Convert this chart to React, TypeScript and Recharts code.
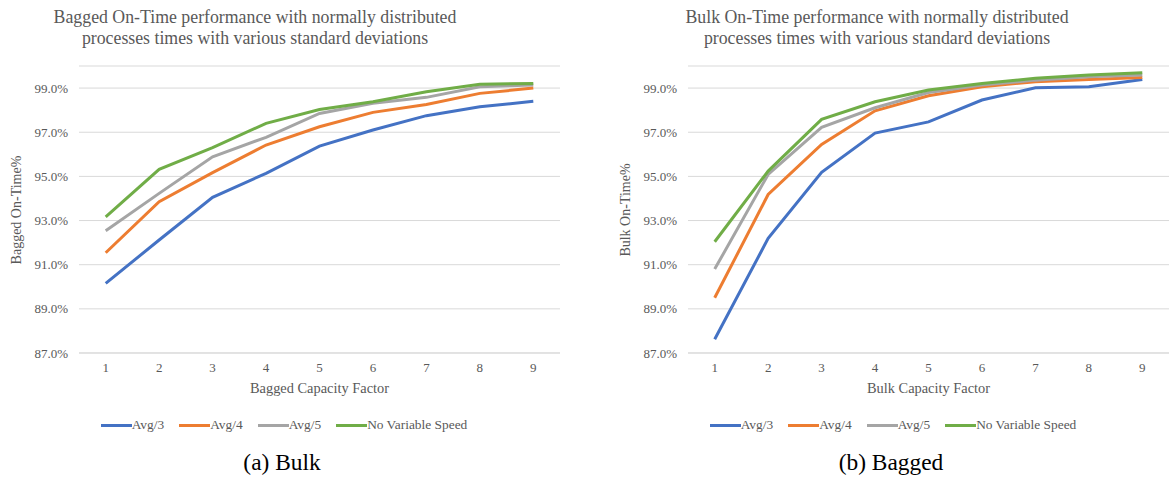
import React from "react";
import { LineChart, Line, XAxis, YAxis, CartesianGrid } from "recharts";

const categories = ["1", "2", "3", "4", "5", "6", "7", "8", "9"];
const seriesNames = ["Avg/3", "Avg/4", "Avg/5", "No Variable Speed"];
const COLORS = ["#4472C4", "#ED7D31", "#A5A5A5", "#70AD47"];
const yTicks = [87, 89, 91, 93, 95, 97, 99];

// left panel: bagged
const baggedAvg3 = [90.15, 92.12, 94.05, 95.14, 96.37, 97.1, 97.75, 98.15, 98.4];
const baggedAvg4 = [91.54, 93.85, 95.17, 96.42, 97.25, 97.9, 98.26, 98.76, 99.0];
const baggedAvg5 = [92.54, 94.23, 95.89, 96.77, 97.85, 98.31, 98.58, 99.06, 99.14];
const baggedNoVar = [93.17, 95.32, 96.3, 97.4, 98.03, 98.38, 98.83, 99.17, 99.21];

// right panel: bulk
const bulkAvg3 = [87.62, 92.19, 95.18, 96.96, 97.47, 98.46, 99.01, 99.06, 99.39];
const bulkAvg4 = [89.5, 94.18, 96.45, 97.97, 98.65, 99.06, 99.29, 99.39, 99.48];
const bulkAvg5 = [90.8, 95.09, 97.22, 98.11, 98.8, 99.14, 99.36, 99.51, 99.59];
const bulkNoVar = [92.04, 95.24, 97.58, 98.38, 98.91, 99.21, 99.44, 99.59, 99.69];

const buildRows = (series: number[][]) =>
  categories.map((c, i) => {
    const row: any = { x: c };
    seriesNames.forEach((n, j) => (row[n] = series[j][i]));
    return row;
  });

const baggedData = buildRows([baggedAvg3, baggedAvg4, baggedAvg5, baggedNoVar]);
const bulkData = buildRows([bulkAvg3, bulkAvg4, bulkAvg5, bulkNoVar]);

const FONT = "Liberation Serif, Times New Roman, serif";
const GRAY = "#595959";

interface PanelProps {
  left: number;
  data: any[];
  title: string[];
  titleX: number;
  yLabel: string;
  xLabel: string;
  caption: string;
}

const Panel: React.FC<PanelProps> = ({ left, data, title, titleX, yLabel, xLabel, caption }) => {
  return (
    <div style={{ position: "absolute", left, top: 0, width: 580, height: 488 }}>
      <div
        style={{
          position: "absolute",
          left: titleX - 250,
          width: 500,
          top: 7,
          textAlign: "center",
          fontFamily: FONT,
          fontSize: 17.8,
          lineHeight: "21px",
          color: GRAY,
        }}
      >
        {title.map((t, i) => (
          <div key={i}>{t}</div>
        ))}
      </div>
      <LineChart
        width={580}
        height={488}
        data={data}
        style={{ fontFamily: FONT }}
        margin={{ top: 66, right: 20, bottom: 93, left: 0 }}
      >
        <CartesianGrid vertical={false} stroke="#D9D9D9" />
        <XAxis
          dataKey="x"
          tickLine={false}
          axisLine={{ stroke: "#D9D9D9" }}
          tickSize={0}
          tickMargin={10}
          height={42}
          padding={{ left: 26.7, right: 26.7 }}
          tick={{ fill: GRAY, fontSize: 13, fontFamily: FONT }}
          label={(p: any) => {
            const vb = p.viewBox;
            return (
              <text
                x={vb.x + vb.width / 2}
                y={393}
                textAnchor="middle"
                fill={GRAY}
                fontSize={14.4}
                fontFamily={FONT}
              >
                {xLabel}
              </text>
            );
          }}
        />
        <YAxis
          type="number"
          domain={[87, 100]}
          ticks={yTicks}
          interval={0}
          width={79}
          tickLine={false}
          axisLine={false}
          tickSize={0}
          tickMargin={11}
          tickFormatter={(v: number) => v.toFixed(1) + "%"}
          tick={{ fill: GRAY, fontSize: 13, fontFamily: FONT }}
        />
        {seriesNames.map((n, i) => (
          <Line
            key={n}
            type="linear"
            dataKey={n}
            stroke={COLORS[i]}
            strokeWidth={3}
            dot={false}
            isAnimationActive={false}
          />
        ))}
      </LineChart>
      <div
        style={{
          position: "absolute",
          left: 17 - 100,
          top: 210 - 9,
          width: 200,
          height: 18,
          lineHeight: "18px",
          textAlign: "center",
          transform: "rotate(-90deg)",
          fontFamily: FONT,
          fontSize: 14,
          color: GRAY,
          whiteSpace: "nowrap",
        }}
      >
        {yLabel}
      </div>
      <div
        style={{
          position: "absolute",
          top: 417,
          left: 0,
          width: 568,
          display: "flex",
          justifyContent: "center",
          fontFamily: FONT,
          fontSize: 13.4,
          color: GRAY,
        }}
      >
        {seriesNames.map((n, i) => (
          <div key={n} style={{ display: "flex", alignItems: "center", marginRight: i < 3 ? 15 : 0 }}>
            <span style={{ display: "inline-block", width: 31, height: 3, background: COLORS[i] }} />
            <span>{n}</span>
          </div>
        ))}
      </div>
      <div
        style={{
          position: "absolute",
          top: 449,
          left: 82,
          width: 400,
          textAlign: "center",
          fontFamily: FONT,
          fontSize: 23.4,
          color: "#000",
        }}
      >
        {caption}
      </div>
    </div>
  );
};

export default function App() {
  return (
    <div style={{ position: "absolute", left: 0, top: 0, width: 1170, height: 488, background: "#fff" }}>
      <Panel
        left={0}
        data={baggedData}
        title={[
          "Bagged On-Time performance with normally distributed",
          "processes times with various standard deviations",
        ]}
        titleX={255}
        yLabel="Bagged On-Time%"
        xLabel="Bagged Capacity Factor"
        caption="(a) Bulk"
      />
      <Panel
        left={609}
        data={bulkData}
        title={[
          "Bulk On-Time performance with normally distributed",
          "processes times with various standard deviations",
        ]}
        titleX={268}
        yLabel="Bulk On-Time%"
        xLabel="Bulk Capacity Factor"
        caption="(b) Bagged"
      />
    </div>
  );
}
